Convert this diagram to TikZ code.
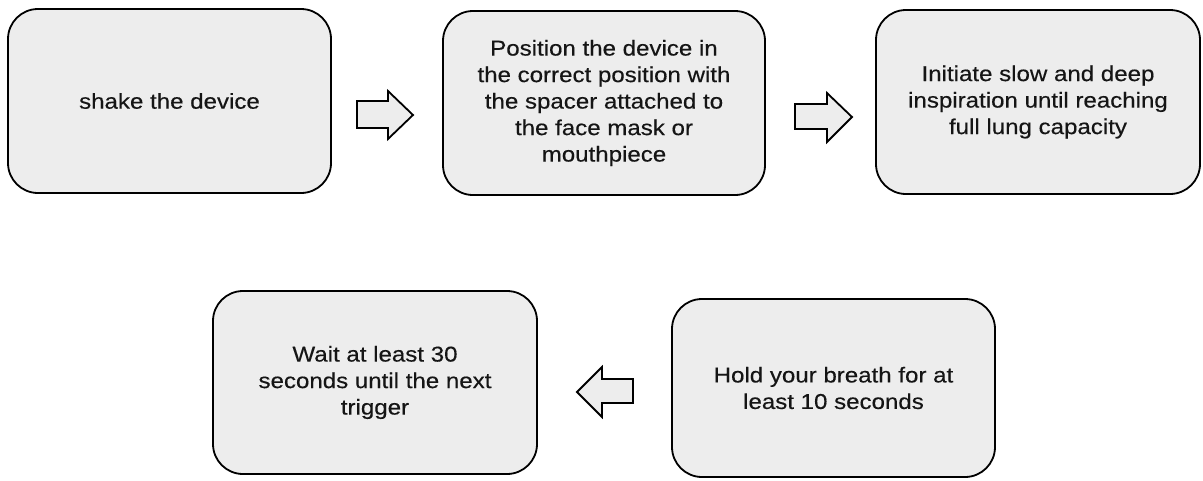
\documentclass[tikz,border=0pt]{standalone}
\usepackage{fontspec}
\setmainfont{Liberation Sans}[FakeStretch=1.12,FakeBold=0.35]
\definecolor{boxfill}{HTML}{EDEDED}
\definecolor{txt}{HTML}{151515}
\begin{document}
\begin{tikzpicture}[x=1pt,y=-1pt,
  stepbox/.style={draw=black, line width=1.8pt, fill=boxfill, rounded corners=30pt,
    align=center, inner sep=0pt, text=txt,
    font=\fontsize{21.5pt}{26.5pt}\selectfont},
  blockarrow/.style={draw=black, line width=1.8pt, fill=boxfill, line join=miter}]
\useasboundingbox (0,0) rectangle (1203,480);
\node[stepbox, minimum width=323pt, minimum height=184pt] (s1) at (169.5,101) {shake the device};
\node[stepbox, minimum width=322pt, minimum height=184pt] (s2) at (604,103)
  {Position the device in\\the correct position with\\the spacer attached to\\the face mask or\\mouthpiece};
\node[stepbox, minimum width=324pt, minimum height=184pt] (s3) at (1038,102)
  {Initiate slow and deep\\inspiration until reaching\\full lung capacity};
\node[stepbox, minimum width=323pt, minimum height=178pt] (s4) at (833.5,388)
  {Hold your breath for at\\least 10 seconds};
\node[stepbox, minimum width=324pt, minimum height=183pt] (s5) at (375,382.5)
  {Wait at least 30\\seconds until the next\\trigger};
% block arrows
\draw[blockarrow] (357,101) -- (388,101) -- (388,91) -- (413,115) -- (388,139) -- (388,128) -- (357,128) -- cycle;
\draw[blockarrow] (795,104) -- (827,104) -- (827,93) -- (852,117) -- (827,142) -- (827,129) -- (795,129) -- cycle;
\draw[blockarrow] (633,379) -- (602,379) -- (602,367) -- (577,392) -- (602,417) -- (602,403) -- (633,403) -- cycle;
\end{tikzpicture}
\end{document}
